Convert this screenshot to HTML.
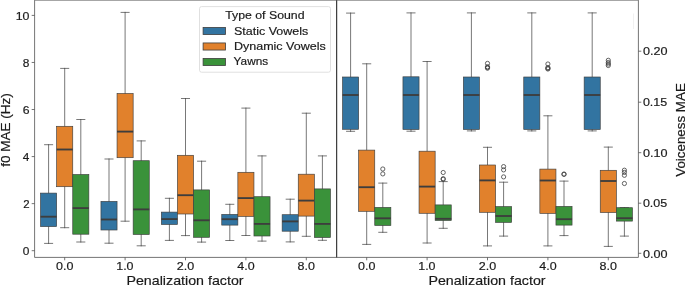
<!DOCTYPE html>
<html><head><meta charset="utf-8"><style>
html,body{margin:0;padding:0;background:#fff;}
svg{display:block;will-change:transform;}
text{font-family:"Liberation Sans", sans-serif;fill:#1a1a1a;stroke:#1a1a1a;stroke-width:0.18px;}
.w{stroke:#3d3d3d;stroke-width:0.7;stroke-linecap:square;}
.c{stroke:#3d3d3d;stroke-width:0.7;stroke-linecap:square;}
.b{stroke:#3d3d3d;stroke-width:0.65;}
.m{stroke:#3d3d3d;stroke-width:1.85;}
.f{fill:none;stroke:#3d3d3d;stroke-width:0.8;}
</style></head><body>
<svg width="685" height="285" viewBox="0 0 685 285">
<rect width="685" height="285" fill="#fff"/>
<line x1="48.60" y1="144.70" x2="48.60" y2="193.10" class="w"/>
<line x1="48.60" y1="226.60" x2="48.60" y2="243.40" class="w"/>
<line x1="44.58" y1="144.70" x2="52.62" y2="144.70" class="c"/>
<line x1="44.58" y1="243.40" x2="52.62" y2="243.40" class="c"/>
<rect x="40.55" y="193.10" width="16.10" height="33.50" fill="#3274a1" class="b"/>
<line x1="40.55" y1="216.70" x2="56.65" y2="216.70" class="m"/>
<line x1="64.70" y1="68.40" x2="64.70" y2="126.30" class="w"/>
<line x1="64.70" y1="186.70" x2="64.70" y2="227.70" class="w"/>
<line x1="60.68" y1="68.40" x2="68.73" y2="68.40" class="c"/>
<line x1="60.68" y1="227.70" x2="68.73" y2="227.70" class="c"/>
<rect x="56.65" y="126.30" width="16.10" height="60.40" fill="#e1812c" class="b"/>
<line x1="56.65" y1="149.50" x2="72.75" y2="149.50" class="m"/>
<line x1="80.80" y1="119.50" x2="80.80" y2="174.50" class="w"/>
<line x1="80.80" y1="234.20" x2="80.80" y2="242.00" class="w"/>
<line x1="76.78" y1="119.50" x2="84.83" y2="119.50" class="c"/>
<line x1="76.78" y1="242.00" x2="84.83" y2="242.00" class="c"/>
<rect x="72.75" y="174.50" width="16.10" height="59.70" fill="#3a923a" class="b"/>
<line x1="72.75" y1="208.10" x2="88.85" y2="208.10" class="m"/>
<line x1="109.00" y1="159.00" x2="109.00" y2="201.40" class="w"/>
<line x1="109.00" y1="230.00" x2="109.00" y2="243.20" class="w"/>
<line x1="104.97" y1="159.00" x2="113.03" y2="159.00" class="c"/>
<line x1="104.97" y1="243.20" x2="113.03" y2="243.20" class="c"/>
<rect x="100.95" y="201.40" width="16.10" height="28.60" fill="#3274a1" class="b"/>
<line x1="100.95" y1="219.50" x2="117.05" y2="219.50" class="m"/>
<line x1="125.10" y1="12.40" x2="125.10" y2="93.50" class="w"/>
<line x1="125.10" y1="157.70" x2="125.10" y2="221.20" class="w"/>
<line x1="121.07" y1="12.40" x2="129.12" y2="12.40" class="c"/>
<line x1="121.07" y1="221.20" x2="129.12" y2="221.20" class="c"/>
<rect x="117.05" y="93.50" width="16.10" height="64.20" fill="#e1812c" class="b"/>
<line x1="117.05" y1="131.60" x2="133.15" y2="131.60" class="m"/>
<line x1="141.20" y1="140.90" x2="141.20" y2="160.70" class="w"/>
<line x1="141.20" y1="234.50" x2="141.20" y2="245.80" class="w"/>
<line x1="137.17" y1="140.90" x2="145.22" y2="140.90" class="c"/>
<line x1="137.17" y1="245.80" x2="145.22" y2="245.80" class="c"/>
<rect x="133.15" y="160.70" width="16.10" height="73.80" fill="#3a923a" class="b"/>
<line x1="133.15" y1="209.40" x2="149.25" y2="209.40" class="m"/>
<line x1="169.40" y1="198.30" x2="169.40" y2="212.10" class="w"/>
<line x1="169.40" y1="224.50" x2="169.40" y2="240.40" class="w"/>
<line x1="165.38" y1="198.30" x2="173.43" y2="198.30" class="c"/>
<line x1="165.38" y1="240.40" x2="173.43" y2="240.40" class="c"/>
<rect x="161.35" y="212.10" width="16.10" height="12.40" fill="#3274a1" class="b"/>
<line x1="161.35" y1="219.10" x2="177.45" y2="219.10" class="m"/>
<line x1="185.50" y1="98.50" x2="185.50" y2="155.30" class="w"/>
<line x1="185.50" y1="214.00" x2="185.50" y2="235.60" class="w"/>
<line x1="181.47" y1="98.50" x2="189.53" y2="98.50" class="c"/>
<line x1="181.47" y1="235.60" x2="189.53" y2="235.60" class="c"/>
<rect x="177.45" y="155.30" width="16.10" height="58.70" fill="#e1812c" class="b"/>
<line x1="177.45" y1="195.20" x2="193.55" y2="195.20" class="m"/>
<line x1="201.60" y1="161.20" x2="201.60" y2="189.90" class="w"/>
<line x1="201.60" y1="237.30" x2="201.60" y2="242.10" class="w"/>
<line x1="197.57" y1="161.20" x2="205.62" y2="161.20" class="c"/>
<line x1="197.57" y1="242.10" x2="205.62" y2="242.10" class="c"/>
<rect x="193.55" y="189.90" width="16.10" height="47.40" fill="#3a923a" class="b"/>
<line x1="193.55" y1="220.30" x2="209.65" y2="220.30" class="m"/>
<line x1="229.80" y1="204.30" x2="229.80" y2="214.40" class="w"/>
<line x1="229.80" y1="225.10" x2="229.80" y2="240.50" class="w"/>
<line x1="225.77" y1="204.30" x2="233.82" y2="204.30" class="c"/>
<line x1="225.77" y1="240.50" x2="233.82" y2="240.50" class="c"/>
<rect x="221.75" y="214.40" width="16.10" height="10.70" fill="#3274a1" class="b"/>
<line x1="221.75" y1="219.20" x2="237.85" y2="219.20" class="m"/>
<line x1="245.90" y1="108.10" x2="245.90" y2="172.30" class="w"/>
<line x1="245.90" y1="216.40" x2="245.90" y2="235.50" class="w"/>
<line x1="241.87" y1="108.10" x2="249.92" y2="108.10" class="c"/>
<line x1="241.87" y1="235.50" x2="249.92" y2="235.50" class="c"/>
<rect x="237.85" y="172.30" width="16.10" height="44.10" fill="#e1812c" class="b"/>
<line x1="237.85" y1="198.10" x2="253.95" y2="198.10" class="m"/>
<line x1="262.00" y1="155.90" x2="262.00" y2="196.70" class="w"/>
<line x1="262.00" y1="236.00" x2="262.00" y2="241.10" class="w"/>
<line x1="257.98" y1="155.90" x2="266.02" y2="155.90" class="c"/>
<line x1="257.98" y1="241.10" x2="266.02" y2="241.10" class="c"/>
<rect x="253.95" y="196.70" width="16.10" height="39.30" fill="#3a923a" class="b"/>
<line x1="253.95" y1="223.90" x2="270.05" y2="223.90" class="m"/>
<line x1="290.20" y1="199.20" x2="290.20" y2="214.70" class="w"/>
<line x1="290.20" y1="231.20" x2="290.20" y2="241.90" class="w"/>
<line x1="286.18" y1="199.20" x2="294.22" y2="199.20" class="c"/>
<line x1="286.18" y1="241.90" x2="294.22" y2="241.90" class="c"/>
<rect x="282.15" y="214.70" width="16.10" height="16.50" fill="#3274a1" class="b"/>
<line x1="282.15" y1="221.40" x2="298.25" y2="221.40" class="m"/>
<line x1="306.30" y1="113.20" x2="306.30" y2="174.20" class="w"/>
<line x1="306.30" y1="216.10" x2="306.30" y2="236.30" class="w"/>
<line x1="302.28" y1="113.20" x2="310.32" y2="113.20" class="c"/>
<line x1="302.28" y1="236.30" x2="310.32" y2="236.30" class="c"/>
<rect x="298.25" y="174.20" width="16.10" height="41.90" fill="#e1812c" class="b"/>
<line x1="298.25" y1="200.60" x2="314.35" y2="200.60" class="m"/>
<line x1="322.40" y1="155.90" x2="322.40" y2="188.90" class="w"/>
<line x1="322.40" y1="237.50" x2="322.40" y2="240.30" class="w"/>
<line x1="318.38" y1="155.90" x2="326.43" y2="155.90" class="c"/>
<line x1="318.38" y1="240.30" x2="326.43" y2="240.30" class="c"/>
<rect x="314.35" y="188.90" width="16.10" height="48.60" fill="#3a923a" class="b"/>
<line x1="314.35" y1="223.90" x2="330.45" y2="223.90" class="m"/>
<line x1="350.60" y1="13.10" x2="350.60" y2="77.00" class="w"/>
<line x1="350.60" y1="129.30" x2="350.60" y2="131.30" class="w"/>
<line x1="346.57" y1="13.10" x2="354.62" y2="13.10" class="c"/>
<line x1="346.57" y1="131.30" x2="354.62" y2="131.30" class="c"/>
<rect x="342.55" y="77.00" width="16.10" height="52.30" fill="#3274a1" class="b"/>
<line x1="342.55" y1="95.00" x2="358.65" y2="95.00" class="m"/>
<line x1="366.70" y1="63.80" x2="366.70" y2="150.10" class="w"/>
<line x1="366.70" y1="211.30" x2="366.70" y2="244.40" class="w"/>
<line x1="362.68" y1="63.80" x2="370.72" y2="63.80" class="c"/>
<line x1="362.68" y1="244.40" x2="370.72" y2="244.40" class="c"/>
<rect x="358.65" y="150.10" width="16.10" height="61.20" fill="#e1812c" class="b"/>
<line x1="358.65" y1="187.20" x2="374.75" y2="187.20" class="m"/>
<line x1="382.80" y1="183.10" x2="382.80" y2="207.40" class="w"/>
<line x1="382.80" y1="225.50" x2="382.80" y2="232.30" class="w"/>
<line x1="378.78" y1="183.10" x2="386.82" y2="183.10" class="c"/>
<line x1="378.78" y1="232.30" x2="386.82" y2="232.30" class="c"/>
<rect x="374.75" y="207.40" width="16.10" height="18.10" fill="#3a923a" class="b"/>
<line x1="374.75" y1="218.30" x2="390.85" y2="218.30" class="m"/>
<circle cx="382.80" cy="169.00" r="2.1" class="f"/>
<circle cx="382.80" cy="173.90" r="2.1" class="f"/>
<line x1="411.00" y1="12.90" x2="411.00" y2="76.80" class="w"/>
<line x1="411.00" y1="129.50" x2="411.00" y2="131.20" class="w"/>
<line x1="406.97" y1="12.90" x2="415.02" y2="12.90" class="c"/>
<line x1="406.97" y1="131.20" x2="415.02" y2="131.20" class="c"/>
<rect x="402.95" y="76.80" width="16.10" height="52.70" fill="#3274a1" class="b"/>
<line x1="402.95" y1="95.00" x2="419.05" y2="95.00" class="m"/>
<line x1="427.10" y1="61.50" x2="427.10" y2="151.20" class="w"/>
<line x1="427.10" y1="213.30" x2="427.10" y2="243.00" class="w"/>
<line x1="423.07" y1="61.50" x2="431.12" y2="61.50" class="c"/>
<line x1="423.07" y1="243.00" x2="431.12" y2="243.00" class="c"/>
<rect x="419.05" y="151.20" width="16.10" height="62.10" fill="#e1812c" class="b"/>
<line x1="419.05" y1="186.60" x2="435.15" y2="186.60" class="m"/>
<line x1="443.20" y1="181.60" x2="443.20" y2="204.90" class="w"/>
<line x1="443.20" y1="220.50" x2="443.20" y2="228.30" class="w"/>
<line x1="439.18" y1="181.60" x2="447.22" y2="181.60" class="c"/>
<line x1="439.18" y1="228.30" x2="447.22" y2="228.30" class="c"/>
<rect x="435.15" y="204.90" width="16.10" height="15.60" fill="#3a923a" class="b"/>
<line x1="435.15" y1="218.80" x2="451.25" y2="218.80" class="m"/>
<circle cx="443.20" cy="172.50" r="2.1" class="f"/>
<circle cx="443.20" cy="178.70" r="2.1" class="f"/>
<circle cx="443.20" cy="179.30" r="2.1" class="f"/>
<line x1="471.40" y1="12.90" x2="471.40" y2="77.00" class="w"/>
<line x1="471.40" y1="129.50" x2="471.40" y2="130.90" class="w"/>
<line x1="467.38" y1="12.90" x2="475.42" y2="12.90" class="c"/>
<line x1="467.38" y1="130.90" x2="475.42" y2="130.90" class="c"/>
<rect x="463.35" y="77.00" width="16.10" height="52.50" fill="#3274a1" class="b"/>
<line x1="463.35" y1="95.00" x2="479.45" y2="95.00" class="m"/>
<line x1="487.50" y1="147.30" x2="487.50" y2="165.00" class="w"/>
<line x1="487.50" y1="212.30" x2="487.50" y2="245.90" class="w"/>
<line x1="483.48" y1="147.30" x2="491.52" y2="147.30" class="c"/>
<line x1="483.48" y1="245.90" x2="491.52" y2="245.90" class="c"/>
<rect x="479.45" y="165.00" width="16.10" height="47.30" fill="#e1812c" class="b"/>
<line x1="479.45" y1="180.40" x2="495.55" y2="180.40" class="m"/>
<circle cx="487.50" cy="63.40" r="2.1" class="f"/>
<circle cx="487.50" cy="66.80" r="2.1" class="f"/>
<circle cx="487.50" cy="67.50" r="2.1" class="f"/>
<circle cx="487.50" cy="68.20" r="2.1" class="f"/>
<line x1="503.60" y1="182.20" x2="503.60" y2="206.60" class="w"/>
<line x1="503.60" y1="222.40" x2="503.60" y2="236.10" class="w"/>
<line x1="499.58" y1="182.20" x2="507.62" y2="182.20" class="c"/>
<line x1="499.58" y1="236.10" x2="507.62" y2="236.10" class="c"/>
<rect x="495.55" y="206.60" width="16.10" height="15.80" fill="#3a923a" class="b"/>
<line x1="495.55" y1="216.00" x2="511.65" y2="216.00" class="m"/>
<circle cx="503.60" cy="166.60" r="2.1" class="f"/>
<circle cx="503.60" cy="169.90" r="2.1" class="f"/>
<circle cx="503.60" cy="176.90" r="2.1" class="f"/>
<line x1="531.80" y1="12.90" x2="531.80" y2="77.00" class="w"/>
<line x1="531.80" y1="129.50" x2="531.80" y2="130.90" class="w"/>
<line x1="527.77" y1="12.90" x2="535.82" y2="12.90" class="c"/>
<line x1="527.77" y1="130.90" x2="535.82" y2="130.90" class="c"/>
<rect x="523.75" y="77.00" width="16.10" height="52.50" fill="#3274a1" class="b"/>
<line x1="523.75" y1="95.00" x2="539.85" y2="95.00" class="m"/>
<line x1="547.90" y1="115.80" x2="547.90" y2="169.10" class="w"/>
<line x1="547.90" y1="213.40" x2="547.90" y2="245.90" class="w"/>
<line x1="543.88" y1="115.80" x2="551.92" y2="115.80" class="c"/>
<line x1="543.88" y1="245.90" x2="551.92" y2="245.90" class="c"/>
<rect x="539.85" y="169.10" width="16.10" height="44.30" fill="#e1812c" class="b"/>
<line x1="539.85" y1="180.50" x2="555.95" y2="180.50" class="m"/>
<circle cx="547.90" cy="64.00" r="2.1" class="f"/>
<circle cx="547.90" cy="67.60" r="2.1" class="f"/>
<circle cx="547.90" cy="68.40" r="2.1" class="f"/>
<circle cx="547.90" cy="69.00" r="2.1" class="f"/>
<line x1="564.00" y1="181.10" x2="564.00" y2="206.40" class="w"/>
<line x1="564.00" y1="225.10" x2="564.00" y2="235.60" class="w"/>
<line x1="559.98" y1="181.10" x2="568.02" y2="181.10" class="c"/>
<line x1="559.98" y1="235.60" x2="568.02" y2="235.60" class="c"/>
<rect x="555.95" y="206.40" width="16.10" height="18.70" fill="#3a923a" class="b"/>
<line x1="555.95" y1="219.20" x2="572.05" y2="219.20" class="m"/>
<circle cx="564.00" cy="174.00" r="2.1" class="f"/>
<circle cx="564.00" cy="174.40" r="2.1" class="f"/>
<line x1="592.20" y1="12.90" x2="592.20" y2="77.00" class="w"/>
<line x1="592.20" y1="129.50" x2="592.20" y2="130.90" class="w"/>
<line x1="588.17" y1="12.90" x2="596.22" y2="12.90" class="c"/>
<line x1="588.17" y1="130.90" x2="596.22" y2="130.90" class="c"/>
<rect x="584.15" y="77.00" width="16.10" height="52.50" fill="#3274a1" class="b"/>
<line x1="584.15" y1="95.00" x2="600.25" y2="95.00" class="m"/>
<line x1="608.30" y1="147.10" x2="608.30" y2="170.30" class="w"/>
<line x1="608.30" y1="212.50" x2="608.30" y2="246.40" class="w"/>
<line x1="604.27" y1="147.10" x2="612.32" y2="147.10" class="c"/>
<line x1="604.27" y1="246.40" x2="612.32" y2="246.40" class="c"/>
<rect x="600.25" y="170.30" width="16.10" height="42.20" fill="#e1812c" class="b"/>
<line x1="600.25" y1="181.00" x2="616.35" y2="181.00" class="m"/>
<circle cx="608.30" cy="60.30" r="2.1" class="f"/>
<circle cx="608.30" cy="62.50" r="2.1" class="f"/>
<circle cx="608.30" cy="64.00" r="2.1" class="f"/>
<circle cx="608.30" cy="65.50" r="2.1" class="f"/>
<line x1="624.40" y1="207.60" x2="624.40" y2="207.70" class="w"/>
<line x1="624.40" y1="221.10" x2="624.40" y2="236.10" class="w"/>
<line x1="620.38" y1="207.60" x2="628.42" y2="207.60" class="c"/>
<line x1="620.38" y1="236.10" x2="628.42" y2="236.10" class="c"/>
<rect x="616.35" y="207.70" width="16.10" height="13.40" fill="#3a923a" class="b"/>
<line x1="616.35" y1="218.20" x2="632.45" y2="218.20" class="m"/>
<circle cx="624.40" cy="170.20" r="2.1" class="f"/>
<circle cx="624.40" cy="172.40" r="2.1" class="f"/>
<circle cx="624.40" cy="175.30" r="2.1" class="f"/>
<circle cx="624.40" cy="183.50" r="2.1" class="f"/>
<line x1="34.6" y1="0.15" x2="34.6" y2="257.4" stroke="#505050" stroke-width="0.8"/>
<line x1="336.5" y1="0.15" x2="336.5" y2="257.4" stroke="#3a3a3a" stroke-width="0.9"/>
<line x1="336.75" y1="0.15" x2="336.75" y2="257.4" stroke="#3a3a3a" stroke-width="0.9"/>
<line x1="638.4" y1="0.15" x2="638.4" y2="257.4" stroke="#505050" stroke-width="0.8"/>
<line x1="34.6" y1="0.15" x2="638.4" y2="0.15" stroke="#505050" stroke-width="0.8"/>
<line x1="34.6" y1="257.4" x2="638.4" y2="257.4" stroke="#505050" stroke-width="0.8"/>
<line x1="31.700000000000003" y1="250.70" x2="34.6" y2="250.70" stroke="#505050" stroke-width="0.8"/>
<text x="22.84" y="254.90" textLength="6.62" lengthAdjust="spacingAndGlyphs" style="font-size:11.25px">0</text>
<line x1="31.700000000000003" y1="203.64" x2="34.6" y2="203.64" stroke="#505050" stroke-width="0.8"/>
<text x="23.23" y="207.84" textLength="6.36" lengthAdjust="spacingAndGlyphs" style="font-size:11.25px">2</text>
<line x1="31.700000000000003" y1="156.58" x2="34.6" y2="156.58" stroke="#505050" stroke-width="0.8"/>
<text x="22.77" y="160.78" textLength="6.57" lengthAdjust="spacingAndGlyphs" style="font-size:11.25px">4</text>
<line x1="31.700000000000003" y1="109.52" x2="34.6" y2="109.52" stroke="#505050" stroke-width="0.8"/>
<text x="22.74" y="113.72" textLength="6.80" lengthAdjust="spacingAndGlyphs" style="font-size:11.25px">6</text>
<line x1="31.700000000000003" y1="62.46" x2="34.6" y2="62.46" stroke="#505050" stroke-width="0.8"/>
<text x="22.87" y="66.66" textLength="6.66" lengthAdjust="spacingAndGlyphs" style="font-size:11.25px">8</text>
<line x1="31.700000000000003" y1="15.40" x2="34.6" y2="15.40" stroke="#505050" stroke-width="0.8"/>
<text x="15.72" y="19.60" textLength="13.77" lengthAdjust="spacingAndGlyphs" style="font-size:11.25px">10</text>
<line x1="638.4" y1="253.30" x2="641.3" y2="253.30" stroke="#505050" stroke-width="0.8"/>
<text x="642.90" y="257.50" textLength="24.56" lengthAdjust="spacingAndGlyphs" style="font-size:11.25px">0.00</text>
<line x1="638.4" y1="203.20" x2="641.3" y2="203.20" stroke="#505050" stroke-width="0.8"/>
<text x="642.90" y="207.40" textLength="24.36" lengthAdjust="spacingAndGlyphs" style="font-size:11.25px">0.05</text>
<line x1="638.4" y1="152.70" x2="641.3" y2="152.70" stroke="#505050" stroke-width="0.8"/>
<text x="642.90" y="156.90" textLength="24.56" lengthAdjust="spacingAndGlyphs" style="font-size:11.25px">0.10</text>
<line x1="638.4" y1="102.20" x2="641.3" y2="102.20" stroke="#505050" stroke-width="0.8"/>
<text x="642.90" y="106.40" textLength="24.36" lengthAdjust="spacingAndGlyphs" style="font-size:11.25px">0.15</text>
<line x1="638.4" y1="51.20" x2="641.3" y2="51.20" stroke="#505050" stroke-width="0.8"/>
<text x="642.90" y="55.40" textLength="24.56" lengthAdjust="spacingAndGlyphs" style="font-size:11.25px">0.20</text>
<line x1="64.70" y1="257.4" x2="64.70" y2="260.29999999999995" stroke="#505050" stroke-width="0.8"/>
<text x="55.99" y="270.20" textLength="17.40" lengthAdjust="spacingAndGlyphs" style="font-size:11.25px">0.0</text>
<line x1="125.10" y1="257.4" x2="125.10" y2="260.29999999999995" stroke="#505050" stroke-width="0.8"/>
<text x="116.21" y="270.20" textLength="17.32" lengthAdjust="spacingAndGlyphs" style="font-size:11.25px">1.0</text>
<line x1="185.50" y1="257.4" x2="185.50" y2="260.29999999999995" stroke="#505050" stroke-width="0.8"/>
<text x="176.70" y="270.20" textLength="17.44" lengthAdjust="spacingAndGlyphs" style="font-size:11.25px">2.0</text>
<line x1="245.90" y1="257.4" x2="245.90" y2="260.29999999999995" stroke="#505050" stroke-width="0.8"/>
<text x="237.32" y="270.20" textLength="17.34" lengthAdjust="spacingAndGlyphs" style="font-size:11.25px">4.0</text>
<line x1="306.30" y1="257.4" x2="306.30" y2="260.29999999999995" stroke="#505050" stroke-width="0.8"/>
<text x="297.57" y="270.20" textLength="17.40" lengthAdjust="spacingAndGlyphs" style="font-size:11.25px">8.0</text>
<line x1="366.70" y1="257.4" x2="366.70" y2="260.29999999999995" stroke="#505050" stroke-width="0.8"/>
<text x="357.99" y="270.20" textLength="17.40" lengthAdjust="spacingAndGlyphs" style="font-size:11.25px">0.0</text>
<line x1="427.10" y1="257.4" x2="427.10" y2="260.29999999999995" stroke="#505050" stroke-width="0.8"/>
<text x="418.21" y="270.20" textLength="17.32" lengthAdjust="spacingAndGlyphs" style="font-size:11.25px">1.0</text>
<line x1="487.50" y1="257.4" x2="487.50" y2="260.29999999999995" stroke="#505050" stroke-width="0.8"/>
<text x="478.70" y="270.20" textLength="17.44" lengthAdjust="spacingAndGlyphs" style="font-size:11.25px">2.0</text>
<line x1="547.90" y1="257.4" x2="547.90" y2="260.29999999999995" stroke="#505050" stroke-width="0.8"/>
<text x="539.32" y="270.20" textLength="17.34" lengthAdjust="spacingAndGlyphs" style="font-size:11.25px">4.0</text>
<line x1="608.30" y1="257.4" x2="608.30" y2="260.29999999999995" stroke="#505050" stroke-width="0.8"/>
<text x="599.57" y="270.20" textLength="17.40" lengthAdjust="spacingAndGlyphs" style="font-size:11.25px">8.0</text>
<text x="126.44" y="285.00" textLength="117.15" lengthAdjust="spacingAndGlyphs" style="font-size:13.35px">Penalization factor</text>
<text x="428.44" y="285.00" textLength="117.15" lengthAdjust="spacingAndGlyphs" style="font-size:13.35px">Penalization factor</text>
<text transform="translate(10.10,130.25) rotate(-90)" x="-36.44" y="0" textLength="73.53" lengthAdjust="spacingAndGlyphs" style="font-size:13.35px">f0 MAE (Hz)</text>
<text transform="translate(684.60,130.20) rotate(-90)" x="-46.55" y="0" textLength="93.57" lengthAdjust="spacingAndGlyphs" style="font-size:13.35px">Voiceness MAE</text>
<line x1="633.5" y1="13.5" x2="633.5" y2="29" stroke="#eeeeee" stroke-width="0.8"/>
<rect x="199.5" y="6.6" width="131.0" height="65.6" rx="2" fill="#fff" fill-opacity="0.8" stroke="#e0e0e0" stroke-width="1"/>
<text x="225.19" y="18.60" textLength="79.34" lengthAdjust="spacingAndGlyphs" style="font-size:11.25px">Type of Sound</text>
<rect x="203.1" y="27.45" width="22.4" height="7.1" fill="#3274a1" stroke="#3d3d3d" stroke-width="0.8"/>
<text x="234.02" y="34.65" textLength="74.29" lengthAdjust="spacingAndGlyphs" style="font-size:11.25px">Static Vowels</text>
<rect x="203.1" y="42.95" width="22.4" height="7.1" fill="#e1812c" stroke="#3d3d3d" stroke-width="0.8"/>
<text x="233.91" y="49.95" textLength="91.85" lengthAdjust="spacingAndGlyphs" style="font-size:11.25px">Dynamic Vowels</text>
<rect x="203.1" y="58.45" width="22.4" height="7.1" fill="#3a923a" stroke="#3d3d3d" stroke-width="0.8"/>
<text x="233.58" y="65.25" textLength="34.54" lengthAdjust="spacingAndGlyphs" style="font-size:11.25px">Yawns</text>
</svg>
</body></html>
